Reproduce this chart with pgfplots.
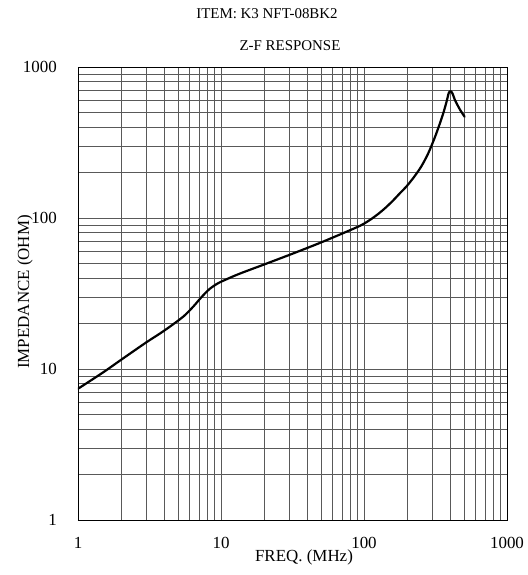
\documentclass[border=0pt]{standalone}
\usepackage{pgfplots}
\pgfplotsset{compat=1.18}
\usepackage{fontspec}
\setmainfont{Liberation Serif}
\begin{document}
\begin{tikzpicture}
\begin{axis}[
  at={(0,0)}, anchor=south west,
  scale only axis, width=429bp, height=453bp,
  xmode=log, ymode=log,
  xmin=1, xmax=1000, ymin=1, ymax=1000,
  xtick={1,10,100,1000}, xticklabels={1,10,100,1000},
  ytick={1,10,100,1000}, yticklabels={1,10,100,1000},
  major tick length=0pt, minor tick length=0pt,
  grid=both,
  major grid style={black!65, line width=0.5pt},
  minor grid style={black!65, line width=0.5pt},
  axis line style={black, line width=0.8pt},
  tick label style={font=\fontsize{17}{17}\selectfont, inner sep=0pt},
  xticklabel style={anchor=north, yshift=-17bp},
  yticklabel style={anchor=east, xshift=-21bp},
  clip=true,
]
\addplot[black, line width=2.2pt, smooth, line join=round, line cap=round] coordinates {
(1,7.4) (1.5,9.5) (2,11.5) (3,15.0) (3.75,17.2) (4.5,19.4) (5.5,22.4) (6.4,25.9) (7.3,29.9)
(8.3,33.8) (9.5,36.9) (11,39.4) (13.6,42.9) (20,49.2) (31.6,58.0) (50.1,68.9) (79.4,82.8)
(94,88.9) (100,91.7) (112.2,98.3) (125.9,106.5) (141.3,116.8) (158.5,129.6) (177.8,145.4)
(199.5,163) (223.9,187) (251.2,219) (281.8,269) (316.2,351) (354.8,479) (378,590)
(392,675) (405,690) (418,660) (433,603) (470,520) (505,469)
};
\end{axis}
\node[font=\fontsize{15}{15}\selectfont] at (189bp,506bp) {ITEM: K3 NFT-08BK2};
\node[font=\fontsize{15}{15}\selectfont] at (212bp,474bp) {Z-F RESPONSE};
\node[font=\fontsize{17}{17}\selectfont] at (226bp,-37bp) {FREQ. (MHz)};
\node[font=\fontsize{17}{17}\selectfont, rotate=90] at (-53bp,228bp) {IMPEDANCE (OHM)};
\pgfresetboundingbox
\path (-78bp,-55bp) rectangle (450bp,520bp);
\end{tikzpicture}
\end{document}
